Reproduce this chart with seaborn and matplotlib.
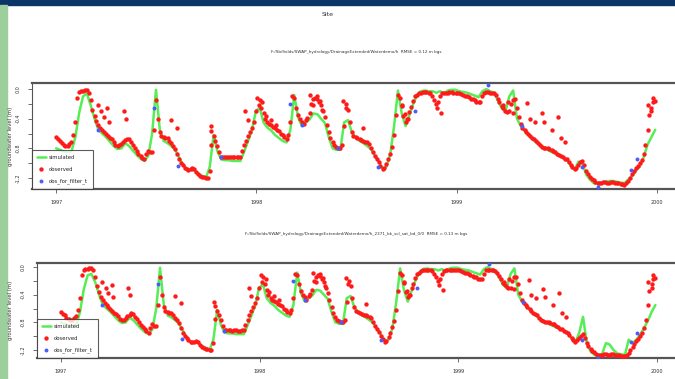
import numpy as np
import pandas as pd
import matplotlib
matplotlib.use("Agg")
import matplotlib.pyplot as plt
from matplotlib.patches import Rectangle
import seaborn as sns

# ---------------- data (weekly from 1997-01-01) ----------------
start_date = "1997-01-01"
n_weeks = 157

observed = [
    -0.65, -0.70, -0.75, -0.77, -0.71, -0.45, -0.04, -0.03, -0.02, -0.15,
    -0.36, -0.48, -0.55, -0.61, -0.66, -0.71, -0.77, -0.74, -0.69, -0.68,
    -0.75, -0.84, -0.90, -0.95, -0.83, -0.85, -0.15, -0.58, -0.65, -0.66,
    -0.73, -0.81, -0.95, -1.03, -1.08, -1.08, -1.08, -1.15, -1.18, -1.20,
    -1.10, -0.63, -0.77, -0.91, -0.91, -0.92, -0.91, -0.92, -0.91, -0.76,
    -0.63, -0.52, -0.30, -0.15, -0.33, -0.45, -0.49, -0.53, -0.57, -0.62,
    -0.67, -0.45, -0.12, -0.35, -0.44, -0.42, -0.33, -0.14, -0.13, -0.22,
    -0.38, -0.58, -0.72, -0.78, -0.80, -0.50, -0.28, -0.58, -0.65, -0.68,
    -0.70, -0.72, -0.79, -0.90, -0.99, -1.08, -1.01, -0.87, -0.62, -0.08,
    -0.23, -0.44, -0.31, -0.16, -0.08, -0.05, -0.04, -0.05, -0.10, -0.20,
    -0.10, -0.05, -0.05, -0.04, -0.05, -0.06, -0.08, -0.10, -0.13, -0.15,
    -0.18, -0.10, -0.04, -0.05, -0.06, -0.13, -0.23, -0.29, -0.30, -0.15,
    -0.25, -0.47, -0.55, -0.61, -0.66, -0.70, -0.76, -0.79, -0.80, -0.82,
    -0.85, -0.89, -0.92, -0.95, -1.02, -1.08, -1.02, -0.97, -1.10, -1.18,
    -1.23, -1.27, -1.27, -1.26, -1.27, -1.26, -1.27, -1.28, -1.29, -1.24,
    -1.15, -1.07, -1.00, -0.88, -0.55, -0.25, -0.16,
]

# mid-week observations (read between the weekly ones), starting day 3
observed_midweek = [
    -0.68, -0.73, -0.77, -0.74, -0.62, -0.12, -0.03, -0.02, -0.05, -0.28,
    -0.43, -0.52, -0.58, -0.64, -0.68, -0.75, -0.76, -0.71, -0.67, -0.72,
    -0.80, -0.87, -0.93, -0.88, -0.85, -0.55, -0.40, -0.64, -0.66, -0.70,
    -0.77, -0.88, -1.00, -1.06, -1.09, -1.07, -1.12, -1.17, -1.19, -1.20,
    -0.75, -0.70, -0.85, -0.91, -0.91, -0.91, -0.92, -0.91, -0.84, -0.70,
    -0.58, -0.45, -0.12, -0.25, -0.40, -0.47, -0.51, -0.55, -0.60, -0.65,
    -0.62, -0.10, -0.25, -0.41, -0.47, -0.39, -0.20, -0.12, -0.17, -0.30,
    -0.48, -0.66, -0.76, -0.80, -0.76, -0.25, -0.45, -0.63, -0.66, -0.69,
    -0.71, -0.74, -0.85, -0.94, -1.04, -1.07, -0.95, -0.78, -0.35, -0.12,
    -0.36, -0.40, -0.24, -0.10, -0.06, -0.04, -0.04, -0.06, -0.15, -0.18,
    -0.06, -0.05, -0.04, -0.05, -0.05, -0.07, -0.09, -0.11, -0.14, -0.17,
    -0.17, -0.05, -0.04, -0.05, -0.08, -0.18, -0.26, -0.31, -0.20, -0.14,
    -0.38, -0.52, -0.58, -0.64, -0.68, -0.73, -0.78, -0.80, -0.81, -0.83,
    -0.87, -0.90, -0.94, -0.98, -1.05, -1.06, -0.99, -1.03, -1.14, -1.21,
    -1.25, -1.27, -1.26, -1.27, -1.26, -1.27, -1.27, -1.28, -1.27, -1.20,
    -1.11, -1.04, -0.96, -0.76, -0.35, -0.18,
]

# scattered extra observations (day offset from start, value)
extra_obs_day = [76, 82, 87, 93, 96, 124, 127, 209, 220, 282, 283, 345, 349,
                 369, 376, 383, 392, 401, 463, 469, 476, 481, 485, 523, 529,
                 560, 630, 636, 641, 694, 701, 814, 823, 832, 859, 863, 872,
                 885, 890, 903, 914, 921, 927, 1078, 1085, 1088]
extra_obs_value = [-0.22, -0.30, -0.38, -0.26, -0.44, -0.30, -0.40, -0.42,
                   -0.52, -0.50, -0.56, -0.30, -0.42, -0.22, -0.18, -0.36,
                   -0.42, -0.48, -0.08, -0.22, -0.10, -0.16, -0.28, -0.16,
                   -0.20, -0.53, -0.22, -0.34, -0.40, -0.26, -0.33, -0.22,
                   -0.18, -0.32, -0.19, -0.40, -0.45, -0.32, -0.44, -0.55,
                   -0.38, -0.66, -0.72, -0.22, -0.30, -0.12]

# observations used for filter
filter_obs_day = [76, 178, 223, 300, 427, 449, 514, 587, 654, 787, 849, 958,
                  987, 1048, 1059]
filter_obs_value = [-0.55, -0.25, -1.04, -0.92, -0.20, -0.48, -0.80, -1.05,
                    -0.30, 0.05, -0.50, -1.05, -1.32, -1.09, -0.95]

simulated_1 = [
    -0.80, -0.82, -0.84, -0.85, -0.84, -0.65, -0.32, -0.10, -0.06, -0.22,
    -0.40, -0.55, -0.60, -0.65, -0.71, -0.77, -0.81, -0.80, -0.73, -0.77,
    -0.83, -0.89, -0.94, -0.97, -0.90, -0.60, -0.01, -0.55, -0.70, -0.73,
    -0.77, -0.82, -0.92, -1.02, -1.08, -1.09, -1.10, -1.14, -1.17, -1.20,
    -1.05, -0.62, -0.84, -0.95, -0.96, -0.96, -0.97, -0.97, -0.97, -0.84,
    -0.70, -0.55, -0.30, -0.25, -0.45, -0.52, -0.56, -0.62, -0.66, -0.70,
    -0.72, -0.55, -0.08, -0.38, -0.50, -0.45, -0.41, -0.33, -0.34, -0.40,
    -0.46, -0.65, -0.80, -0.82, -0.82, -0.45, -0.42, -0.58, -0.66, -0.70,
    -0.73, -0.77, -0.81, -0.90, -0.98, -1.07, -1.05, -0.88, -0.50, -0.02,
    -0.33, -0.50, -0.35, -0.20, -0.08, -0.03, -0.02, -0.03, -0.03, -0.05,
    -0.03, -0.06, -0.02, -0.01, -0.01, -0.03, -0.04, -0.05, -0.07, -0.09,
    -0.11, -0.03, 0.00, -0.03, -0.05, -0.15, -0.26, -0.30, -0.10, -0.02,
    -0.40, -0.50, -0.56, -0.62, -0.67, -0.72, -0.75, -0.79, -0.82, -0.85,
    -0.87, -0.89, -0.92, -0.96, -1.03, -1.09, -0.98, -1.00, -1.15, -1.22,
    -1.27, -1.28, -1.26, -1.25, -1.24, -1.24, -1.25, -1.26, -1.27, -1.22,
    -1.17, -1.10, -1.04, -0.92, -0.75, -0.65, -0.55,
]

simulated_2 = [
    -0.80, -0.82, -0.84, -0.85, -0.84, -0.65, -0.32, -0.12, -0.10, -0.22,
    -0.40, -0.55, -0.60, -0.65, -0.71, -0.77, -0.81, -0.80, -0.73, -0.77,
    -0.83, -0.89, -0.94, -0.97, -0.90, -0.60, -0.01, -0.55, -0.70, -0.73,
    -0.77, -0.82, -0.92, -1.02, -1.08, -1.09, -1.10, -1.14, -1.17, -1.20,
    -1.05, -0.62, -0.84, -0.95, -0.96, -0.96, -0.97, -0.97, -0.97, -0.84,
    -0.70, -0.55, -0.30, -0.25, -0.45, -0.52, -0.56, -0.62, -0.66, -0.70,
    -0.72, -0.55, -0.08, -0.38, -0.50, -0.45, -0.41, -0.33, -0.34, -0.40,
    -0.46, -0.65, -0.80, -0.82, -0.82, -0.45, -0.42, -0.58, -0.66, -0.70,
    -0.73, -0.77, -0.81, -0.90, -0.98, -1.07, -1.05, -0.88, -0.50, -0.02,
    -0.33, -0.50, -0.35, -0.20, -0.08, -0.03, -0.02, -0.03, -0.03, -0.05,
    -0.03, -0.06, -0.02, -0.01, -0.01, -0.03, -0.04, -0.05, -0.07, -0.09,
    -0.11, -0.03, 0.00, -0.03, -0.05, -0.15, -0.26, -0.30, -0.10, -0.02,
    -0.40, -0.50, -0.56, -0.62, -0.67, -0.72, -0.75, -0.79, -0.82, -0.85,
    -0.87, -0.89, -0.92, -0.96, -1.03, -1.09, -0.95, -0.72, -1.10, -1.22,
    -1.27, -1.28, -1.26, -1.10, -1.12, -1.20, -1.25, -1.26, -1.27, -1.05,
    -1.10, -1.05, -0.98, -0.88, -0.78, -0.65, -0.55,
]

tick_years = ["1997", "1998", "1999", "2000"]
titles = [
    "F:/Sb/fields/SWAP_hydrology/DrainageExtended/Waterdemo/h  RMSE = 0.12 m bgs",
    "F:/Sb/fields/SWAP_hydrology/DrainageExtended/Waterdemo/h_2371_bk_scl_sat_bd_0/0  RMSE = 0.13 m bgs",
]
main_title = "Site"
ylabel = "groundwater level (m)"
legend_labels = ["simulated", "observed", "obs_for_filter_t"]

# ---------------- build tables ----------------
t0 = pd.Timestamp(start_date)
weeks = pd.date_range(t0, periods=n_weeks, freq="7D")
midweeks = pd.date_range(t0 + pd.Timedelta(days=3),
                         periods=len(observed_midweek), freq="7D")
obs_df = pd.concat([
    pd.DataFrame({"date": weeks, "value": observed}),
    pd.DataFrame({"date": midweeks, "value": observed_midweek}),
    pd.DataFrame({"date": t0 + pd.to_timedelta(extra_obs_day, unit="D"),
                  "value": extra_obs_value}),
], ignore_index=True)
filt_df = pd.DataFrame({"date": t0 + pd.to_timedelta(filter_obs_day, unit="D"),
                        "value": filter_obs_value})
sims = [pd.DataFrame({"date": weeks, "value": simulated_1}),
        pd.DataFrame({"date": weeks, "value": simulated_2})]

sns.set_style("white")
plt.rcParams["font.family"] = ["DejaVu Sans"]

W, H = 675, 379
fig = plt.figure(figsize=(W / 100, H / 100), dpi=100)
fig.patch.set_facecolor("white")

# slide decorations
fig.add_artist(Rectangle((0, 1 - 5 / H), 1, 5 / H, transform=fig.transFigure,
                         color="#0b3566", zorder=0))
fig.add_artist(Rectangle((0, 0), 7 / W, 1 - 5 / H, transform=fig.transFigure,
                         color="#9dcf9d", zorder=0))

fig.text(328 / W, 1 - 14 / H, main_title, fontsize=4.5, ha="center",
         va="center", color="#333333")

# axes boxes in pixels: (left, top, right, bottom)
boxes = [(32, 83, 681, 189), (37, 263, 681, 358)]
ylims = [(-1.348, 0.081), (-1.315, 0.058)]
title_y = [52, 234]

xpad = pd.Timedelta(days=44)
xmin = pd.Timestamp("1997-01-01") - xpad
xmax = pd.Timestamp("2000-01-01") + xpad

for i, (l, t, r, b) in enumerate(boxes):
    ax = fig.add_axes([l / W, 1 - b / H, (r - l) / W, (b - t) / H])
    sns.lineplot(data=sims[i], x="date", y="value", ax=ax, color="#55ee55",
                 linewidth=1.8, label=legend_labels[0], zorder=2)
    sns.scatterplot(data=obs_df, x="date", y="value", ax=ax, color="#ff1a1a",
                    s=10, linewidth=0, label=legend_labels[1], zorder=3)
    sns.scatterplot(data=filt_df, x="date", y="value", ax=ax, color="#4a5cff",
                    s=8, linewidth=0, label=legend_labels[2], zorder=4)
    ax.set_xlim(xmin, xmax)
    ax.set_ylim(*ylims[i])
    ax.set_xlabel("")
    ax.set_ylabel("")
    ax.set_xticks([pd.Timestamp(f"{y}-01-01") for y in tick_years])
    ax.set_xticklabels(tick_years, fontsize=3.5, color="#333333")
    ax.set_yticks([0.0, -0.4, -0.8, -1.2])
    ax.set_yticklabels(["0.0", "-0.4", "-0.8", "-1.2"], fontsize=3.5,
                       rotation=90, va="center", color="#333333")
    ax.set_yticks([-0.2, -0.6, -1.0], minor=True)
    ax.tick_params(axis="both", which="both", direction="out", length=3,
                   width=0.6, color="#555555", pad=5, left=True, bottom=True)
    for s in ax.spines.values():
        s.set_visible(True)
        s.set_color("#555555")
        s.set_linewidth(0.8)
    ax.spines["top"].set_linewidth(1.6)
    ax.spines["bottom"].set_linewidth(1.6)
    ax.set_facecolor("white")
    leg = ax.legend(loc="lower left", fontsize=3.8, frameon=True,
                    fancybox=False, borderaxespad=0.0, handlelength=1.7,
                    markerscale=1.0, borderpad=0.9, labelspacing=1.3,
                    handletextpad=0.6)
    leg.get_frame().set_edgecolor("#333333")
    leg.get_frame().set_linewidth(0.8)
    fig.text(356 / W, 1 - title_y[i] / H, titles[i], fontsize=3.0,
             ha="center", va="center", color="#333333")
    fig.text(11 / W, 1 - ((t + b) / 2) / H, ylabel, fontsize=3.8,
             rotation=90, ha="center", va="center", color="#333333")

fig.savefig("out.png", dpi=100, facecolor="white")
